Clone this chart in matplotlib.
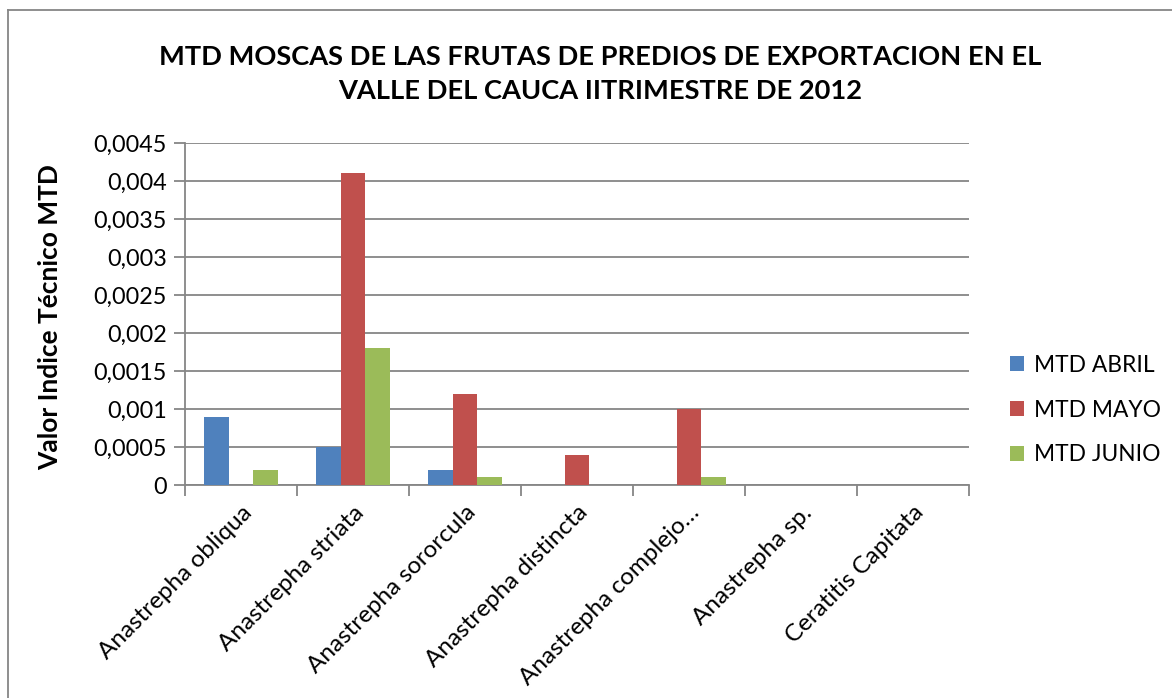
import matplotlib
matplotlib.use("Agg")
import matplotlib.pyplot as plt
import numpy as np
from matplotlib.lines import Line2D
from matplotlib.ticker import FuncFormatter, MultipleLocator

categories = ["Anastrepha obliqua", "Anastrepha striata", "Anastrepha sororcula",
              "Anastrepha distincta", "Anastrepha complejo…", "Anastrepha sp.",
              "Ceratitis Capitata"]
series_names = ["MTD ABRIL", "MTD MAYO", "MTD JUNIO"]
abril = [0.0009, 0.0005, 0.0002, 0.0, 0.0, 0.0, 0.0]
mayo = [0.0, 0.0041, 0.0012, 0.0004, 0.001, 0.0, 0.0]
junio = [0.0002, 0.0018, 0.0001, 0.0, 0.0001, 0.0, 0.0]
colors = ["#4F81BD", "#C0504D", "#9BBB59"]
title = "MTD MOSCAS DE LAS FRUTAS DE PREDIOS DE EXPORTACION EN EL\nVALLE DEL CAUCA IITRIMESTRE DE 2012"
ylabel = "Valor Indice Técnico MTD"

plt.rcParams['font.family'] = ['Lato', 'DejaVu Sans']

W, H = 1172, 698
fig = plt.figure(figsize=(W / 100, H / 100), dpi=100)
ax = fig.add_axes([185 / W, 1 - 485 / H, (969 - 185) / W, (485 - 143) / H])

x = np.arange(len(categories))
bw = 1 / 4.5
for i, (vals, name, c) in enumerate(zip([abril, mayo, junio], series_names, colors)):
    ax.bar(x + (i - 1) * bw, vals, width=bw, color=c, label=name, zorder=3)

ax.set_xlim(-0.5, len(categories) - 0.5)
ax.set_ylim(0, 0.0045)
ax.yaxis.set_major_locator(MultipleLocator(0.0005))
ax.yaxis.set_major_formatter(FuncFormatter(
    lambda v, p: "0" if abs(v) < 1e-12 else ("%.4f" % v).rstrip("0").replace(".", ",")))
ax.grid(axis="y", color="#868686", linewidth=1.3, zorder=0)
for s in ["top", "right"]:
    ax.spines[s].set_visible(False)
for s in ["left", "bottom"]:
    ax.spines[s].set_color("#868686")
    ax.spines[s].set_linewidth(1.3)

ax.set_xticks(np.arange(len(categories) + 1) - 0.5, minor=False)
ax.set_xticklabels([])
ax.set_xticks(x, minor=True)
ax.set_xticklabels(categories, minor=True, rotation=45, ha="right",
                   rotation_mode="anchor", fontsize=17.5)
ax.tick_params(axis="x", which="major", length=8, color="#868686", width=1.3)
ax.tick_params(axis="x", which="minor", length=0, pad=12)
ax.tick_params(axis="y", length=8, color="#868686", width=1.3, labelsize=16.8, pad=5)

ax.set_ylabel(ylabel, fontsize=19, fontweight="bold")
ax.yaxis.set_label_coords((62 - 185) / 784, 0.49)

fig.text(600 / W, 1 - 74 / H, title, ha="center", va="center",
         fontsize=19.6, fontweight="bold", linespacing=1.5)

leg = ax.legend(loc="center left", bbox_to_anchor=((1010 - 185) / 784, (485 - 410) / 342),
                frameon=False, fontsize=16.4, handlelength=0.6, handleheight=0.6,
                labelspacing=1.05, handletextpad=0.45, borderaxespad=0, borderpad=0)

fig.add_artist(Line2D([8 / W, 8 / W], [0, 1 - 10 / H], color="#868686", linewidth=1.3))
fig.add_artist(Line2D([8 / W, 1], [1 - 10 / H, 1 - 10 / H], color="#868686", linewidth=1.3))

fig.savefig("out.png", dpi=100)
